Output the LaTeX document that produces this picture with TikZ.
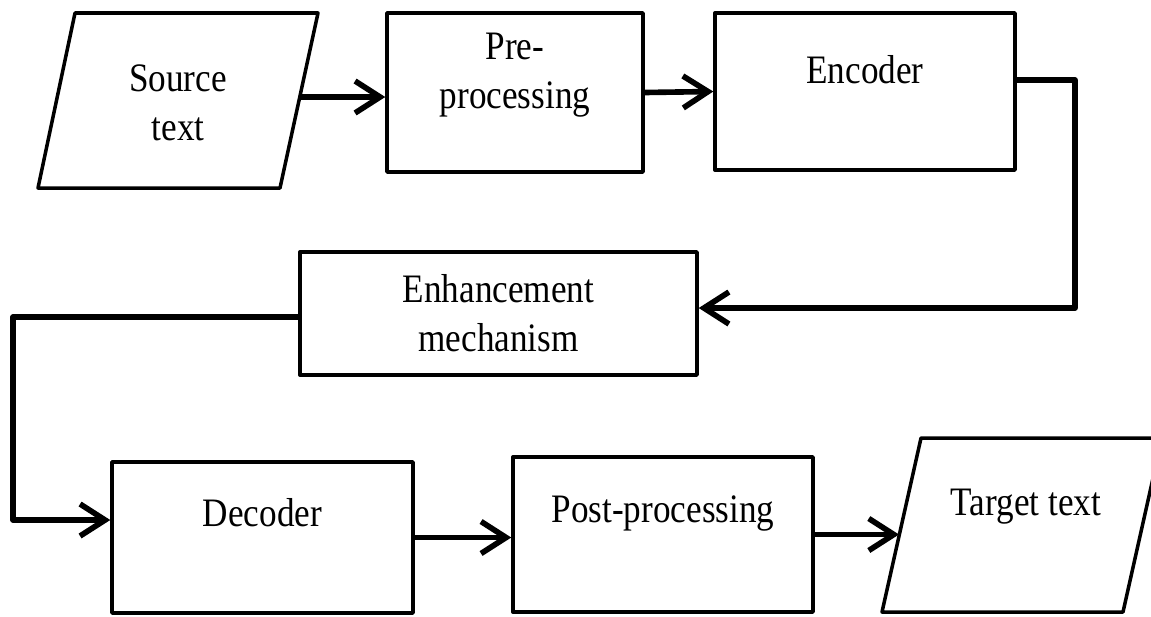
\documentclass[tikz,border=0pt]{standalone}
\usepackage{fontspec}
\setmainfont{Liberation Serif}[FakeStretch=0.87]
\usetikzlibrary{arrows.meta}
\tikzset{
  flowbox/.style={draw,line width=2pt,inner sep=0pt},
  iobox/.style={line width=2pt},
  flowtxt/.style={align=center,inner sep=0pt},
  flowarrow/.style={line width=3.2pt,-{Straight Barb[length=5mm,width=6.4mm]}}
}

\begin{document}
\begin{tikzpicture}[x=0.02cm,y=-0.02cm,line join=round,font=\fontsize{23}{28}\selectfont]
  \useasboundingbox (0,0) rectangle (1151,616);\clip (0,0) rectangle (1151,616);
  % top row
  \draw[iobox] (38,188) -- (75,13) -- (318,13) -- (280,188) -- cycle;
  \node[flowtxt] (src) at (178,102.5) {Source\\text};
  \coordinate (srcout) at (299,97);
  \node[flowbox,minimum width=5.12cm,minimum height=3.18cm,
    label={[flowtxt,yshift=0.35cm]center:Pre-\\processing}] (pre) at (515,92.5) {};
  \node[flowbox,minimum width=6cm,minimum height=3.14cm,
    label={[flowtxt,yshift=0.43cm]center:Encoder}] (enc) at (865,91.5) {};
  % middle
  \node[flowbox,minimum width=7.94cm,minimum height=2.46cm,align=center] (enh) at (498.5,313.5) {Enhancement\\mechanism};
  % bottom row
  \node[flowbox,minimum width=6.02cm,minimum height=3.02cm,
    label={[flowtxt,yshift=0.49cm]center:Decoder}] (dec) at (262.5,537.5) {};
  \node[flowbox,minimum width=6cm,minimum height=3.1cm,
    label={[flowtxt,yshift=0.43cm]center:Post-processing}] (post) at (663,534.5) {};
  \draw[iobox] (882,612) -- (921,438) -- (1162,438) -- (1123,612) -- cycle;
  \node[flowtxt] (tgt) at (1026,507) {Target text};
  \coordinate (tgtin) at (899,534.5);
  % connectors
  \draw[flowarrow] (srcout) -- (srcout -| pre.west);
  \draw[flowarrow] (pre.east) -- (enc.west);
  \draw[flowarrow] ([yshift=0.23cm]enc.east) -- ++(58,0) |- ([yshift=0.11cm]enh.east);
  \draw[flowarrow] ([yshift=-0.07cm]enh.west) -- ++(-285,0) |- ([yshift=0.35cm]dec.west);
  \draw[flowarrow] (dec.east) -- (dec.east -| post.west);
  \draw[flowarrow] (post.east) -- (tgtin);
\end{tikzpicture}
\end{document}
